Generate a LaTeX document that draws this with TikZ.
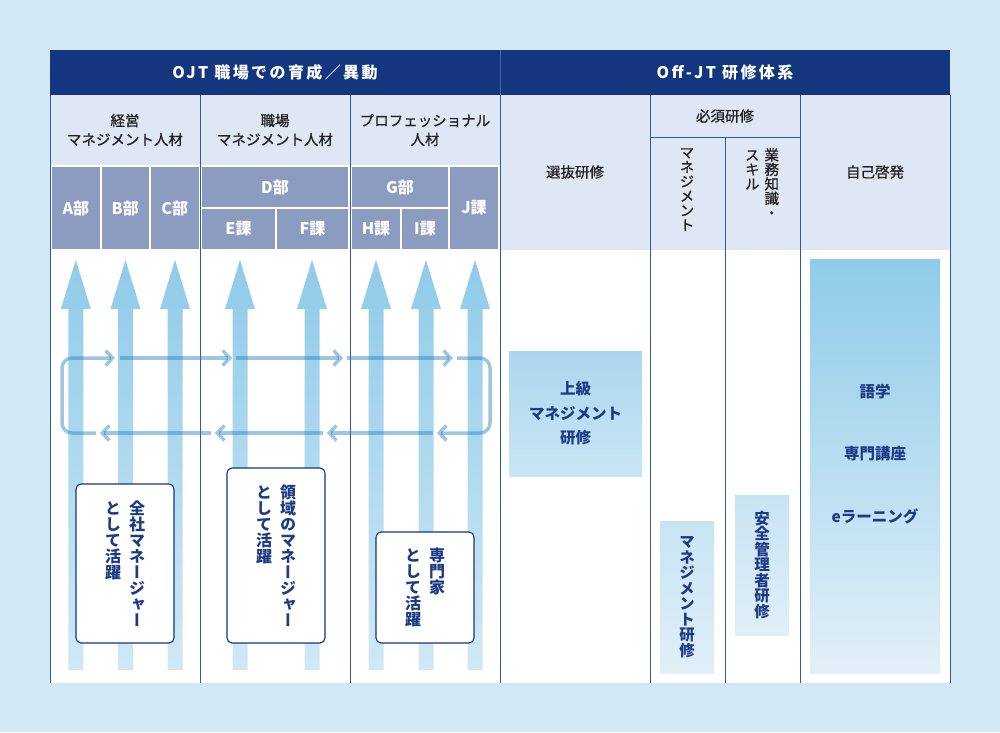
\documentclass[tikz,border=0pt]{standalone}
\usepackage{fontspec}
\setmainfont{Noto Sans CJK JP}
\newfontfamily\bandfont{Noto Sans CJK JP}[LetterSpace=15]
\newfontfamily\medfont{Noto Sans CJK JP}[FakeBold=0.8]
\newfontfamily\tatefont{Noto Sans CJK JP}[RawFeature=+vert]
\newfontfamily\tatemedfont{Noto Sans CJK JP}[RawFeature=+vert,FakeBold=0.8]
\usetikzlibrary{arrows.meta,positioning}

\definecolor{pagebg}{HTML}{D2E8F5}
\definecolor{navy}{HTML}{13367F}
\definecolor{bandrule}{HTML}{3E6AB4}
\definecolor{headbg}{HTML}{E0E7F4}
\definecolor{headtxt}{HTML}{222222}
\definecolor{unitbg}{HTML}{8C9BC0}
\definecolor{rulec}{HTML}{2D5AA5}
\definecolor{ink}{HTML}{1D3A85}
\definecolor{sky}{HTML}{8FCBE9}
\definecolor{skylow}{HTML}{D0E8F6}
\definecolor{loopc}{HTML}{2A7FBD}
\definecolor{jokyutop}{HTML}{ABD7EE}
\definecolor{jokyulow}{HTML}{C9E5F4}
\definecolor{paletop}{HTML}{C7E4F3}
\definecolor{palelow}{HTML}{E0EFF8}
\definecolor{jikolow}{HTML}{E2F0F8}

\makeatletter
\newcommand\tate[2][\tatefont]{\vtop{#1\baselineskip=1em\lineskiplimit=-\maxdimen
  \@tfor\tate@ch:=#2\do{\hbox to 1em{\hss\tate@ch\hss}}}}
\makeatother

\begin{document}
\begin{tikzpicture}[x=1pt,y=-1pt,
	band/.style={fill=navy,text=white,minimum width=450,minimum height=45,font=\fontsize{16}{18}\bandfont\bfseries},
	head/.style={text=headtxt,align=center,font=\fontsize{14.5}{19}\medfont},
	tatehead/.style={text=headtxt,inner sep=0pt,font=\fontsize{14.5}{19}\selectfont},
	unit/.style={fill=unitbg,text=white,inner sep=0pt,font=\fontsize{16}{18}\selectfont\bfseries},
	rolebox/.style={draw=navy,line width=1.1pt,fill=white,rounded corners=5pt,text=ink,minimum width=98,font=\fontsize{16}{16}\selectfont\bfseries},
	course/.style={inner sep=0pt,text=ink,font=\fontsize{15.5}{24.5}\selectfont\bfseries},
	rule/.style={draw=rulec,line width=1pt},
	loopline/.style={draw=loopc,draw opacity=.45,line width=3.5pt,rounded corners=10pt,-{Straight Barb[length=7pt,width=15pt]}}]

\path[use as bounding box,fill=pagebg] (0,0) rectangle (1000,732);
\fill[white] (50,95) rectangle (950,683);
\fill[headbg] (50,95) rectangle (950,250);
\fill[white] (50,165) rectangle (500,250);

\node[band] (ojt) at (275,72.5) {OJT 職場での育成／異動};
\node[band] (offjt) at (725,72.5) {Off-JT 研修体系};
\draw[draw=bandrule,line width=1pt] (ojt.north east) -- (ojt.south east);

\node[head] (keiei) at (125,130) {経営\\マネジメント人材};
\node[head] (shokuba) at (275,130) {職場\\マネジメント人材};
\node[head] (pro) at (425,130) {プロフェッショナル\\人材};

\node[unit,minimum width=47.5,minimum height=82] (abu) at (75.8,208) {A部};
\node[unit,minimum width=47.5,minimum height=82] (bbu) at (125.3,208) {B部};
\node[unit,minimum width=47.5,minimum height=82] (cbu) at (174.8,208) {C部};
\node[unit,minimum width=146,minimum height=40] (dbu) at (275,187) {D部};
\node[unit,minimum width=73,minimum height=40] (eka) at (238.5,229) {E課};
\node[unit,minimum width=71,minimum height=40] (fka) at (312.5,229) {F課};
\node[unit,minimum width=96,minimum height=40] (gbu) at (400,187) {G部};
\node[unit,minimum width=48,minimum height=40] (hka) at (376,229) {H課};
\node[unit,minimum width=46,minimum height=40] (ika) at (425,229) {I課};
\node[unit,minimum width=48,minimum height=82] (jka) at (474,208) {J課};

\node[head] (senbatsu) at (575,172) {選抜研修};
\node[head] (hissu) at (725,116) {必須研修};
\node[tatehead,anchor=north] (hmgmt) at (687,148) {\tate[\tatemedfont]{マネジメント}};
\node[tatehead,anchor=north] (hskill) at (762,148) {\tate[\tatemedfont]{スキル}\hspace{5pt}\tate[\tatemedfont]{業務知識・}};
\node[head] (jiko) at (875,172) {自己啓発};

\foreach \vx in {50,200,350,500,650,800,950}
	\draw[rule] (\vx,95) -- (\vx,683);
\draw[rule] (650,137) -- (800,137);
\draw[rule] (725,137) -- (725,683);

\foreach \ax in {75.8,125.5,175,240,312,376,426,475}
	\shade[top color=sky,bottom color=skylow] (\ax-7.5,670) -- (\ax-7.5,309) -- (\ax-15,309) -- (\ax,260)
		-- (\ax+15,309) -- (\ax+7.5,309) -- (\ax+7.5,670) -- cycle;

\coordinate (lpnw) at (62,358);
\coordinate (lpse) at (490,433);
\draw[loopline] (96,433) -- (lpnw |- lpse) -- (lpnw) -- (115,358);
\foreach \a/\b in {120/232,236/343,347/453}
	\draw[loopline] (\a,358) -- (\b,358);
\draw[loopline] (457,358) -- (lpse |- lpnw) -- (lpse) -- (437,433);
\foreach \a/\b in {433/327,323/215,211/100}
	\draw[loopline] (\a,433) -- (\b,433);

\node[rolebox,minimum height=159] (zensha) at (125,563.5) {\tate{として活躍}\hspace{8pt}\tate{全社マネージャー}};
\node[rolebox,minimum height=175] (ryoiki) at (276,555.5) {\tate{として活躍}\hspace{8pt}\tate{領域のマネージャー}};
\node[rolebox,minimum height=111] (senmon) at (425,587.5) {\tate{として活躍}\hspace{8pt}\tate{専門家}};

\node[course,align=center,top color=jokyutop,bottom color=jokyulow,minimum width=133,minimum height=125] (jokyu) at (575.5,413.5) {上級\\マネジメント\\研修};
\node[course,top color=paletop,bottom color=palelow,minimum width=54,minimum height=152] (mgmtken) at (687,597) {\tate{マネジメント研修}};
\node[course,top color=paletop,bottom color=palelow,minimum width=54,minimum height=140] (anzen) at (762,565) {\tate{安全管理者研修}};
\node[course,top color=sky,bottom color=jikolow,minimum width=130,minimum height=414] (jikobox) at (875,466) {};
\node[course] (gogaku) at (875,392) {語学};
\node[course] (koza) at (875,454) {専門講座};
\node[course] (elearn) at (875,516) {eラーニング};
\end{tikzpicture}
\end{document}
